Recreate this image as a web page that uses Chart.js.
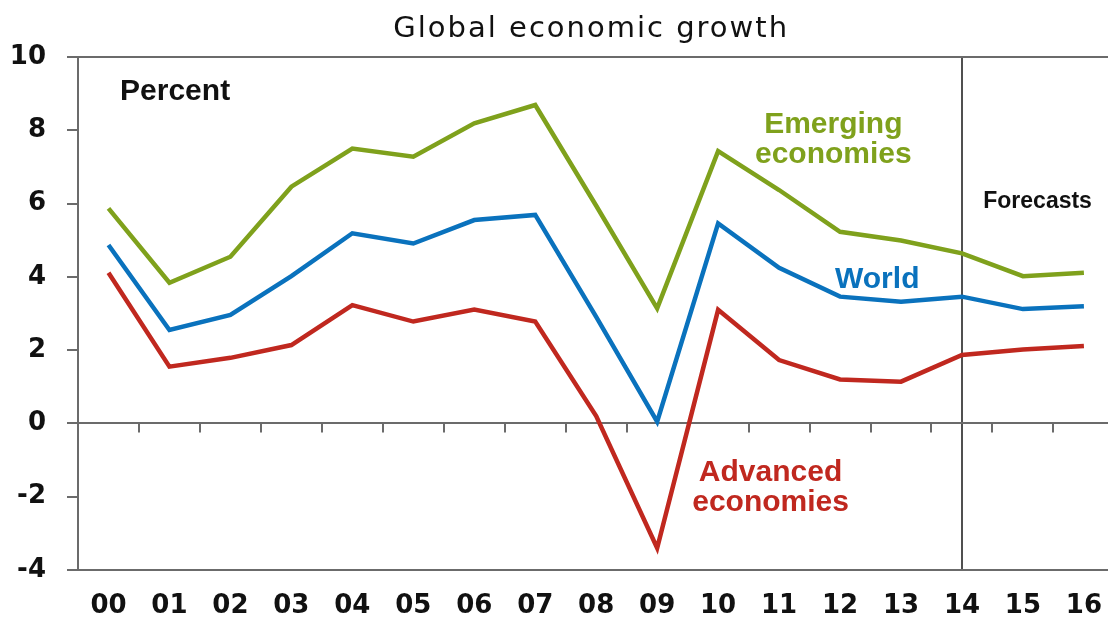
<!DOCTYPE html>
<html>
<head>
<meta charset="utf-8">
<script src="https://cdn.jsdelivr.net/npm/chart.js@4/dist/chart.umd.min.js"></script>
<style>
  html, body { margin: 0; padding: 0; background: #fff; overflow: hidden; }
  canvas { display: block; }
</style>
</head>
<body>
<canvas id="growthChart" width="1123" height="619"></canvas>
<script>
// Data (annual % growth, 2000-2016)
const years = ['00', '01', '02', '03', '04', '05', '06', '07', '08', '09', '10', '11', '12', '13', '14', '15', '16'];
const emerging = [5.87, 3.84, 4.55, 6.46, 7.5, 7.28, 8.19, 8.69, 5.94, 3.14, 7.43, 6.37, 5.23, 4.99, 4.64, 4.02, 4.11];
const world = [4.87, 2.55, 2.96, 4.02, 5.19, 4.91, 5.55, 5.69, 2.91, 0.05, 5.46, 4.25, 3.46, 3.32, 3.46, 3.12, 3.2];
const advanced = [4.11, 1.55, 1.79, 2.14, 3.23, 2.78, 3.11, 2.78, 0.2, -3.4, 3.1, 1.73, 1.2, 1.14, 1.87, 2.02, 2.11];
const yTicks = [-4, -2, 0, 2, 4, 6, 8, 10];
const forecastFrom = '14';

const GREEN = '#7fa11c';
const BLUE = '#0a72bd';
const RED = '#c0281f';
const AXIS = '#6b6b6b';

// labels placed in data coordinates: [text lines, x index, y value, colour, font, align]
const notes = [
    [['Percent'], 0.19, 8.82, '#111', 'bold 30px "Liberation Sans", Arial', 'left'],
    [['Emerging', 'economies'], 11.89, 7.93, GREEN, 'bold 30px "Liberation Sans", Arial', 'center'],
    [['World'], 12.61, 3.69, BLUE, 'bold 30px "Liberation Sans", Arial', 'center'],
    [['Advanced', 'economies'], 10.86, -1.57, RED, 'bold 30px "Liberation Sans", Arial', 'center'],
    [['Forecasts'], 15.24, 5.88, '#111', 'bold 23px "Liberation Sans", Arial', 'center']
];

const decorations = {
    id: 'decorations',
    beforeDatasetsDraw(chart) {
        // small tick marks hanging under the zero line, between years
        const { ctx, scales: { x, y } } = chart;
        const y0 = y.getPixelForValue(0);
        ctx.save();
        ctx.strokeStyle = AXIS;
        ctx.lineWidth = 2;
        for (let i = 1; i < years.length; i++) {
            const px = Math.round((x.getPixelForValue(i - 1) + x.getPixelForValue(i)) / 2);
            ctx.beginPath();
            ctx.moveTo(px, y0);
            ctx.lineTo(px, y0 + 9);
            ctx.stroke();
        }
        ctx.restore();
    },
    afterDatasetsDraw(chart) {
        const { ctx, chartArea, scales: { x, y } } = chart;
        ctx.save();
        ctx.textBaseline = 'alphabetic';
        notes.forEach(([lines, xi, yv, color, font, align]) => {
            ctx.fillStyle = color;
            ctx.font = font;
            ctx.textAlign = align;
            lines.forEach((line, k) => {
                ctx.fillText(line, x.getPixelForValue(xi), y.getPixelForValue(yv) + k * 30);
            });
        });
        // title
        ctx.fillStyle = '#111';
        ctx.font = '29px "DejaVu Sans"';
        ctx.textAlign = 'center';
        ctx.letterSpacing = '2px';
        ctx.fillText('Global economic growth', (chartArea.left + chartArea.right) / 2 - 5, chartArea.top - 20);
        ctx.restore();
    }
};

const ctx = document.getElementById('growthChart').getContext('2d');
new Chart(ctx, {
    type: 'line',
    data: {
        labels: years,
        datasets: [
            { label: 'Emerging economies', data: emerging, borderColor: GREEN },
            { label: 'World', data: world, borderColor: BLUE },
            { label: 'Advanced economies', data: advanced, borderColor: RED }
        ].map(d => Object.assign(d, { borderWidth: 4.5, pointRadius: 0, tension: 0, fill: false }))
    },
    options: {
        responsive: false,
        animation: false,
        layout: { padding: { top: 57, right: 0, left: 0, bottom: 0 } },
        plugins: {
            legend: { display: false },
            title: { display: false },
            tooltip: { enabled: false }
        },
        scales: {
            x: {
                offset: true,
                border: { display: false },
                grid: {
                    color: c => (years[c.index] === forecastFrom ? '#505050' : 'transparent'),
                    lineWidth: 2,
                    drawTicks: false
                },
                ticks: {
                    color: '#111',
                    font: { family: 'DejaVu Sans', size: 26, weight: 'bold' },
                    padding: 21,
                    maxRotation: 0,
                    autoSkip: false
                },
                afterFit(scale) { scale.height = 49; }
            },
            y: {
                min: -4,
                max: 10,
                afterBuildTicks(scale) { scale.ticks = yTicks.map(v => ({ value: v })); },
                border: { display: true, color: AXIS, width: 2 },
                grid: {
                    color: c => ([10, 0, -4].includes(c.tick.value) ? AXIS : 'transparent'),
                    tickColor: AXIS,
                    lineWidth: 2,
                    tickLength: 11
                },
                ticks: {
                    color: '#111',
                    font: { family: 'DejaVu Sans', size: 26, weight: 'bold' },
                    padding: 21
                },
                afterFit(scale) { scale.width = 78; }
            }
        }
    },
    plugins: [decorations]
});
</script>
</body>
</html>
